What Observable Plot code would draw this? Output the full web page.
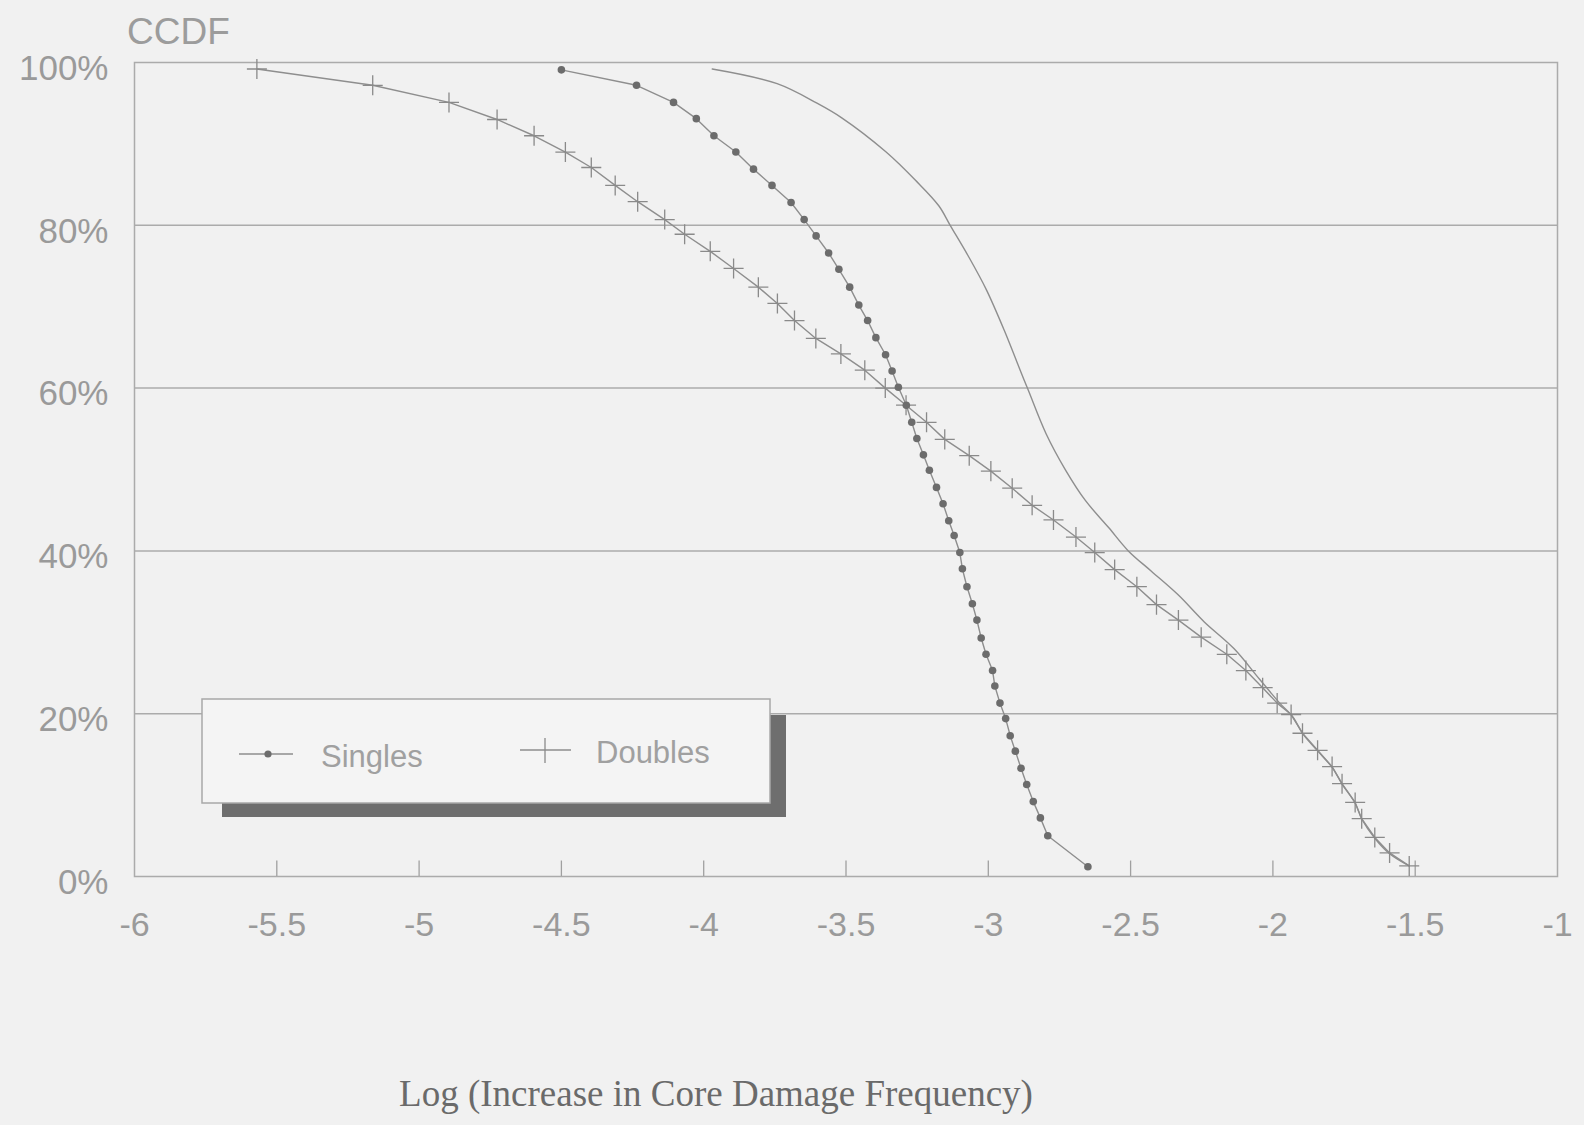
<!DOCTYPE html>
<html>
<head>
<meta charset="utf-8">
<script src="https://cdn.jsdelivr.net/npm/d3@7"></script>
<script src="https://cdn.jsdelivr.net/npm/@observablehq/plot@0.6"></script>
<style>
  html, body { margin: 0; padding: 0; background: #f1f1f1; }
  #wrap { position: relative; width: 1584px; height: 1125px; overflow: hidden; background: #f1f1f1; }
  #chart { position: absolute; left: 0; top: 0; }
  #ytitle { position: absolute; left: 127px; top: 11px; font: 37px "Liberation Sans", Arial, sans-serif; color: #9c9c9c; }
  #xtitle { position: absolute; left: 716px; top: 1072px; transform: translateX(-50%); white-space: nowrap;
            font: 37px "Liberation Serif", "Times New Roman", serif; color: #6a6a6a; }
  #legend { position: absolute; left: 0; top: 0; }
</style>
</head>
<body>
<div id="wrap">
  <div id="chart"></div>
  <div id="ytitle">CCDF</div>
  <div id="xtitle">Log (Increase in Core Damage Frequency)</div>
</div>
<script>
// ---- tick values and labels ----
const xTicks = [-6, -5.5, -5, -4.5, -4, -3.5, -3, -2.5, -2, -1.5, -1];
const xTickLabels = ["-6", "-5.5", "-5", "-4.5", "-4", "-3.5", "-3", "-2.5", "-2", "-1.5", "-1"];
const yTicks = [0, 20, 40, 60, 80, 100];
const yTickLabels = ["0%", "20%", "40%", "60%", "80%", "100%"];
const yGrid = [20, 40, 60, 80];

// ---- Singles (log increase in CDF, CCDF %) ----
const singlesX = [-4.50, -4.236, -4.106, -4.026, -3.964, -3.887, -3.825, -3.760, -3.693, -3.647,
  -3.605, -3.561, -3.525, -3.487, -3.455, -3.424, -3.395, -3.361, -3.338, -3.316,
  -3.288, -3.269, -3.251, -3.228, -3.207, -3.182, -3.159, -3.139, -3.120, -3.100,
  -3.091, -3.075, -3.056, -3.040, -3.025, -3.008, -2.985, -2.977, -2.959, -2.939,
  -2.923, -2.905, -2.885, -2.865, -2.842, -2.817, -2.791, -2.650];
const singlesY = [99.1, 97.2, 95.1, 93.1, 91.0, 89.0, 86.9, 84.9, 82.8, 80.7,
  78.7, 76.6, 74.6, 72.4, 70.2, 68.3, 66.2, 64.1, 62.1, 60.1,
  57.9, 55.8, 53.8, 51.8, 49.9, 47.8, 45.8, 43.7, 41.9, 39.8,
  37.8, 35.6, 33.5, 31.5, 29.3, 27.3, 25.3, 23.4, 21.3, 19.4,
  17.3, 15.4, 13.3, 11.3, 9.2, 7.2, 5.0, 1.2];

// ---- Doubles ----
const doublesX = [-5.57, -5.163, -4.895, -4.726, -4.596, -4.486, -4.395, -4.311, -4.232, -4.137,
  -4.067, -3.977, -3.895, -3.808, -3.741, -3.681, -3.606, -3.518, -3.434, -3.362,
  -3.289, -3.217, -3.153, -3.067, -2.991, -2.916, -2.846, -2.771, -2.692, -2.626,
  -2.556, -2.478, -2.409, -2.332, -2.252, -2.162, -2.095, -2.036, -1.985, -1.936,
  -1.896, -1.843, -1.792, -1.757, -1.711, -1.688, -1.642, -1.590, -1.521];
const doublesY = [99.2, 97.2, 95.1, 93.0, 91.0, 89.0, 87.1, 84.9, 82.9, 80.7,
  78.9, 76.8, 74.7, 72.4, 70.4, 68.3, 66.1, 64.2, 62.2, 60.0,
  57.9, 55.8, 53.7, 51.7, 49.8, 47.7, 45.6, 43.8, 41.7, 39.8,
  37.7, 35.6, 33.4, 31.5, 29.4, 27.3, 25.3, 23.2, 21.3, 19.9,
  17.6, 15.5, 13.5, 11.4, 9.1, 7.1, 4.8, 2.9, 1.3];

// ---- Unmarked third curve ----
const thirdX = [-3.970, -3.742, -3.602, -3.515, -3.359, -3.255, -3.174, -3.134, -3.070, -3.007,
  -2.944, -2.888, -2.859, -2.797, -2.728, -2.659, -2.578, -2.508, -2.427, -2.333,
  -2.242, -2.137, -2.046, -1.976, -1.930, -1.894, -1.842, -1.792, -1.756, -1.711,
  -1.687, -1.642, -1.590, -1.521];
const thirdY = [99.2, 97.4, 95.0, 93.2, 89.0, 85.5, 82.4, 80.0, 76.2, 72.1,
  67.1, 62.2, 59.7, 54.4, 49.9, 46.2, 42.9, 40.0, 37.5, 34.6,
  31.3, 28.0, 24.2, 21.3, 19.6, 17.5, 15.4, 13.4, 11.3, 9.0,
  7.0, 4.7, 2.8, 1.3];

const zip = (xs, ys) => xs.map((x, i) => ({x, y: ys[i]}));
const singles = zip(singlesX, singlesY);
const doubles = zip(doublesX, doublesY);
const third = zip(thirdX, thirdY);

const gray = "#8e8e8e";

const chart = Plot.plot({
  width: 1584,
  height: 960,
  marginTop: 62,
  marginBottom: 84,
  marginLeft: 134,
  marginRight: 27,
  x: {domain: [-6, -1], label: null},
  y: {domain: [0, 100], label: null},
  style: {background: "transparent", fontFamily: "'Liberation Sans', Arial, sans-serif", color: "#9a9a9a", overflow: "visible"},
  marks: [
    Plot.ruleY(yGrid, {stroke: "#ababab", strokeWidth: 1.5}),
    Plot.frame({stroke: "#ababab", strokeWidth: 1.5}),
    Plot.ruleX(xTicks.slice(1, -1), {x: d => d, y1: 0, y2: 1.9, stroke: "#a0a0a0", strokeWidth: 1.3}),
    Plot.axisX(xTicks, {tickSize: 0, tickPadding: 35, fontSize: 34, fill: "#9a9a9a",
      tickFormat: d => xTickLabels[xTicks.indexOf(d)], label: null}),
    Plot.axisY(yTicks, {tickSize: 0, tickPadding: 26, fontSize: 35, fill: "#9a9a9a", dy: 6,
      tickFormat: d => yTickLabels[yTicks.indexOf(d)], label: null}),
    Plot.line(third, {x: "x", y: "y", stroke: gray, strokeWidth: 1.4, curve: "catmull-rom"}),
    Plot.line(doubles, {x: "x", y: "y", stroke: gray, strokeWidth: 1.4}),
    Plot.dot(doubles, {x: "x", y: "y", symbol: "plus", r: 6.5, stroke: "#8a8a8a", strokeWidth: 1.3}),
    Plot.line(singles, {x: "x", y: "y", stroke: gray, strokeWidth: 1.4}),
    Plot.dot(singles, {x: "x", y: "y", r: 3.8, fill: "#6c6c6c", stroke: "none"})
  ]
});
document.getElementById("chart").appendChild(chart);

// ---- Legend (overlay) ----
const legendItems = ["Singles", "Doubles"];
const ns = "http://www.w3.org/2000/svg";
const lg = document.createElementNS(ns, "svg");
lg.setAttribute("id", "legend");
lg.setAttribute("width", 1584);
lg.setAttribute("height", 1125);
lg.innerHTML = `
  <rect x="222" y="803" width="564" height="14" fill="#6e6e6e"/>
  <rect x="770" y="715" width="16" height="102" fill="#6e6e6e"/>
  <rect x="202" y="699" width="568" height="104" fill="#f4f4f4" stroke="#a8a8a8" stroke-width="1.5"/>
  <line x1="239" y1="754" x2="293" y2="754" stroke="${gray}" stroke-width="1.4"/>
  <circle cx="268" cy="754" r="3.6" fill="#6c6c6c"/>
  <text x="321" y="767" font-family="'Liberation Sans', Arial, sans-serif" font-size="31" fill="#a0a0a0">${legendItems[0]}</text>
  <line x1="520" y1="750" x2="571" y2="750" stroke="${gray}" stroke-width="1.4"/>
  <line x1="545" y1="738" x2="545" y2="763" stroke="#8a8a8a" stroke-width="1.3"/>
  <text x="596" y="763" font-family="'Liberation Sans', Arial, sans-serif" font-size="31" fill="#a0a0a0">${legendItems[1]}</text>
`;
document.getElementById("wrap").appendChild(lg);
</script>
</body>
</html>
